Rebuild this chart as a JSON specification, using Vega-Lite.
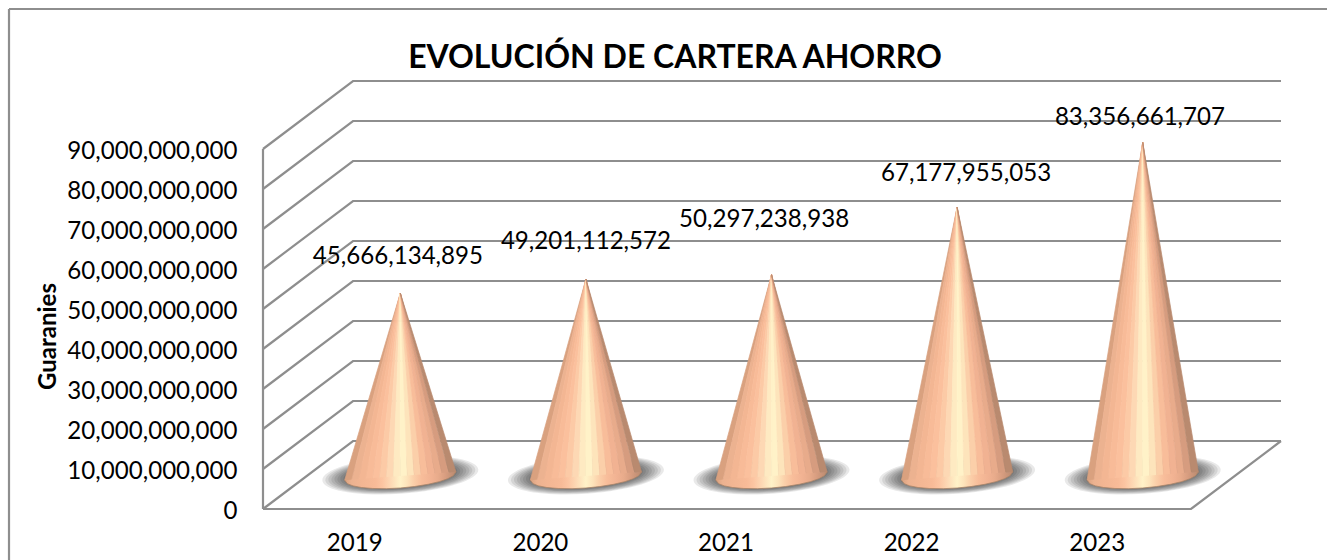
{"$schema":"https://vega.github.io/schema/vega-lite/v6.json","autosize":{"type":"none"},"padding":{"left":263,"top":81,"right":46,"bottom":51},"width":1018,"height":428,"background":"white","view":{"stroke":null},
"config":{"point":{"shape":"M -1 0.07 A 1 0.24 -4 1 0 1 -0.07 A 1 0.24 -4 1 0 -1 0.07 Z","filled":true,"color":"#000000","opacity":0.085,"strokeWidth":0}},
"title":{"text":"EVOLUCIÓN DE CARTERA AHORRO","font":"Lato","fontSize":32,"fontWeight":"bold","color":"#000000","anchor":"middle","dx":-97,"offset":0,"dy":70},
"datasets":{
"grid":[
{"k":"g0","x":0,"v":0},{"k":"g0","x":0.485,"v":17000000000},{"k":"g0","x":5.485,"v":17000000000},
{"k":"g1","x":0,"v":10000000000},{"k":"g1","x":0.485,"v":27000000000},{"k":"g1","x":5.485,"v":27000000000},
{"k":"g2","x":0,"v":20000000000},{"k":"g2","x":0.485,"v":37000000000},{"k":"g2","x":5.485,"v":37000000000},
{"k":"g3","x":0,"v":30000000000},{"k":"g3","x":0.485,"v":47000000000},{"k":"g3","x":5.485,"v":47000000000},
{"k":"g4","x":0,"v":40000000000},{"k":"g4","x":0.485,"v":57000000000},{"k":"g4","x":5.485,"v":57000000000},
{"k":"g5","x":0,"v":50000000000},{"k":"g5","x":0.485,"v":67000000000},{"k":"g5","x":5.485,"v":67000000000},
{"k":"g6","x":0,"v":60000000000},{"k":"g6","x":0.485,"v":77000000000},{"k":"g6","x":5.485,"v":77000000000},
{"k":"g7","x":0,"v":70000000000},{"k":"g7","x":0.485,"v":87000000000},{"k":"g7","x":5.485,"v":87000000000},
{"k":"g8","x":0,"v":80000000000},{"k":"g8","x":0.485,"v":97000000000},{"k":"g8","x":5.485,"v":97000000000},
{"k":"g9","x":0,"v":90000000000},{"k":"g9","x":0.485,"v":107000000000},{"k":"g9","x":5.485,"v":107000000000},
{"k":"left","x":0,"v":90000000000},{"k":"left","x":0,"v":0},
{"k":"floor","x":0,"v":0},{"k":"floor","x":5,"v":0},{"k":"floor","x":5.485,"v":17000000000},
{"k":"frameL","x":-1.3685,"v":-20000000000},{"k":"frameL","x":-1.3685,"v":125000000000},
{"k":"frameT","x":-1.3685,"v":125000000000},{"k":"frameT","x":5.74,"v":125000000000}
],
"values":[
{"year":2019,"value":45666134895,"lx":0.727,"lv":63500000000,"c":0.74},
{"year":2020,"value":49201112572,"lx":1.74,"lv":67250000000,"c":1.74},
{"year":2021,"value":50297238938,"lx":2.70,"lv":72750000000,"c":2.74},
{"year":2022,"value":67177955053,"lx":3.788,"lv":84250000000,"c":3.74},
{"year":2023,"value":83356661707,"lx":4.725,"lv":98250000000,"c":4.74}
],
"skirt":[
{"year":2019,"x":[0.44,0.455,0.485,0.53,0.59,0.665,0.74,0.815,0.89,0.95,0.995,1.025,1.04],"lo":[7200000000,6320000000,5780000000,5370000000,5130000000,5080000000,5250000000,5610000000,6180000000,6840000000,7560000000,8310000000,9300000000],"hi":[7200000000,7250000000,7360000000,7520000000,7730000000,7990000000,8250000000,8510000000,8780000000,8990000000,9140000000,9250000000,9300000000]},
{"year":2020,"x":[1.44,1.455,1.485,1.53,1.59,1.665,1.74,1.815,1.89,1.95,1.995,2.025,2.04],"lo":[7200000000,6320000000,5780000000,5370000000,5130000000,5080000000,5250000000,5610000000,6180000000,6840000000,7560000000,8310000000,9300000000],"hi":[7200000000,7250000000,7360000000,7520000000,7730000000,7990000000,8250000000,8510000000,8780000000,8990000000,9140000000,9250000000,9300000000]},
{"year":2021,"x":[2.44,2.455,2.485,2.53,2.59,2.665,2.74,2.815,2.89,2.95,2.995,3.025,3.04],"lo":[7200000000,6320000000,5780000000,5370000000,5130000000,5080000000,5250000000,5610000000,6180000000,6840000000,7560000000,8310000000,9300000000],"hi":[7200000000,7250000000,7360000000,7520000000,7730000000,7990000000,8250000000,8510000000,8780000000,8990000000,9140000000,9250000000,9300000000]},
{"year":2022,"x":[3.44,3.455,3.485,3.53,3.59,3.665,3.74,3.815,3.89,3.95,3.995,4.025,4.04],"lo":[7200000000,6320000000,5780000000,5370000000,5130000000,5080000000,5250000000,5610000000,6180000000,6840000000,7560000000,8310000000,9300000000],"hi":[7200000000,7250000000,7360000000,7520000000,7730000000,7990000000,8250000000,8510000000,8780000000,8990000000,9140000000,9250000000,9300000000]},
{"year":2023,"x":[4.44,4.455,4.485,4.53,4.59,4.665,4.74,4.815,4.89,4.95,4.995,5.025,5.04],"lo":[7200000000,6320000000,5780000000,5370000000,5130000000,5080000000,5250000000,5610000000,6180000000,6840000000,7560000000,8310000000,9300000000],"hi":[7200000000,7250000000,7360000000,7520000000,7730000000,7990000000,8250000000,8510000000,8780000000,8990000000,9140000000,9250000000,9300000000]}
],
"wedges":[
{"year":2019,"band":"a","x":[0.74,0.44],"x2":[0.74,0.4775],"v":[53970000000,7200000000]},
{"year":2019,"band":"b","x":[0.74,0.4775],"x2":[0.74,0.515],"v":[53970000000,7150000000]},
{"year":2019,"band":"c","x":[0.74,0.515],"x2":[0.74,0.5525],"v":[53970000000,7280000000]},
{"year":2019,"band":"d","x":[0.74,0.5525],"x2":[0.74,0.59],"v":[53970000000,7410000000]},
{"year":2019,"band":"e","x":[0.74,0.59],"x2":[0.74,0.6275],"v":[53970000000,7540000000]},
{"year":2019,"band":"f","x":[0.74,0.6275],"x2":[0.74,0.665],"v":[53970000000,7670000000]},
{"year":2019,"band":"g","x":[0.74,0.665],"x2":[0.74,0.7025],"v":[53970000000,7800000000]},
{"year":2019,"band":"h","x":[0.74,0.7025],"x2":[0.74,0.74],"v":[53970000000,7930000000]},
{"year":2019,"band":"i","x":[0.74,0.74],"x2":[0.74,0.7775],"v":[53970000000,8070000000]},
{"year":2019,"band":"j","x":[0.74,0.7775],"x2":[0.74,0.815],"v":[53970000000,8200000000]},
{"year":2019,"band":"k","x":[0.74,0.815],"x2":[0.74,0.8525],"v":[53970000000,8330000000]},
{"year":2019,"band":"l","x":[0.74,0.8525],"x2":[0.74,0.89],"v":[53970000000,8460000000]},
{"year":2019,"band":"m","x":[0.74,0.89],"x2":[0.74,0.9275],"v":[53970000000,8590000000]},
{"year":2019,"band":"n","x":[0.74,0.9275],"x2":[0.74,0.965],"v":[53970000000,8720000000]},
{"year":2019,"band":"o","x":[0.74,0.965],"x2":[0.74,1.0025],"v":[53970000000,8850000000]},
{"year":2019,"band":"p","x":[0.74,1.0025],"x2":[0.74,1.04],"v":[53970000000,9200000000]},
{"year":2020,"band":"a","x":[1.74,1.44],"x2":[1.74,1.4775],"v":[57500000000,7200000000]},
{"year":2020,"band":"b","x":[1.74,1.4775],"x2":[1.74,1.515],"v":[57500000000,7150000000]},
{"year":2020,"band":"c","x":[1.74,1.515],"x2":[1.74,1.5525],"v":[57500000000,7280000000]},
{"year":2020,"band":"d","x":[1.74,1.5525],"x2":[1.74,1.59],"v":[57500000000,7410000000]},
{"year":2020,"band":"e","x":[1.74,1.59],"x2":[1.74,1.6275],"v":[57500000000,7540000000]},
{"year":2020,"band":"f","x":[1.74,1.6275],"x2":[1.74,1.665],"v":[57500000000,7670000000]},
{"year":2020,"band":"g","x":[1.74,1.665],"x2":[1.74,1.7025],"v":[57500000000,7800000000]},
{"year":2020,"band":"h","x":[1.74,1.7025],"x2":[1.74,1.74],"v":[57500000000,7930000000]},
{"year":2020,"band":"i","x":[1.74,1.74],"x2":[1.74,1.7775],"v":[57500000000,8070000000]},
{"year":2020,"band":"j","x":[1.74,1.7775],"x2":[1.74,1.815],"v":[57500000000,8200000000]},
{"year":2020,"band":"k","x":[1.74,1.815],"x2":[1.74,1.8525],"v":[57500000000,8330000000]},
{"year":2020,"band":"l","x":[1.74,1.8525],"x2":[1.74,1.89],"v":[57500000000,8460000000]},
{"year":2020,"band":"m","x":[1.74,1.89],"x2":[1.74,1.9275],"v":[57500000000,8590000000]},
{"year":2020,"band":"n","x":[1.74,1.9275],"x2":[1.74,1.965],"v":[57500000000,8720000000]},
{"year":2020,"band":"o","x":[1.74,1.965],"x2":[1.74,2.0025],"v":[57500000000,8850000000]},
{"year":2020,"band":"p","x":[1.74,2.0025],"x2":[1.74,2.04],"v":[57500000000,9200000000]},
{"year":2021,"band":"a","x":[2.74,2.44],"x2":[2.74,2.4775],"v":[58600000000,7200000000]},
{"year":2021,"band":"b","x":[2.74,2.4775],"x2":[2.74,2.515],"v":[58600000000,7150000000]},
{"year":2021,"band":"c","x":[2.74,2.515],"x2":[2.74,2.5525],"v":[58600000000,7280000000]},
{"year":2021,"band":"d","x":[2.74,2.5525],"x2":[2.74,2.59],"v":[58600000000,7410000000]},
{"year":2021,"band":"e","x":[2.74,2.59],"x2":[2.74,2.6275],"v":[58600000000,7540000000]},
{"year":2021,"band":"f","x":[2.74,2.6275],"x2":[2.74,2.665],"v":[58600000000,7670000000]},
{"year":2021,"band":"g","x":[2.74,2.665],"x2":[2.74,2.7025],"v":[58600000000,7800000000]},
{"year":2021,"band":"h","x":[2.74,2.7025],"x2":[2.74,2.74],"v":[58600000000,7930000000]},
{"year":2021,"band":"i","x":[2.74,2.74],"x2":[2.74,2.7775],"v":[58600000000,8070000000]},
{"year":2021,"band":"j","x":[2.74,2.7775],"x2":[2.74,2.815],"v":[58600000000,8200000000]},
{"year":2021,"band":"k","x":[2.74,2.815],"x2":[2.74,2.8525],"v":[58600000000,8330000000]},
{"year":2021,"band":"l","x":[2.74,2.8525],"x2":[2.74,2.89],"v":[58600000000,8460000000]},
{"year":2021,"band":"m","x":[2.74,2.89],"x2":[2.74,2.9275],"v":[58600000000,8590000000]},
{"year":2021,"band":"n","x":[2.74,2.9275],"x2":[2.74,2.965],"v":[58600000000,8720000000]},
{"year":2021,"band":"o","x":[2.74,2.965],"x2":[2.74,3.0025],"v":[58600000000,8850000000]},
{"year":2021,"band":"p","x":[2.74,3.0025],"x2":[2.74,3.04],"v":[58600000000,9200000000]},
{"year":2022,"band":"a","x":[3.74,3.44],"x2":[3.74,3.4775],"v":[75480000000,7200000000]},
{"year":2022,"band":"b","x":[3.74,3.4775],"x2":[3.74,3.515],"v":[75480000000,7150000000]},
{"year":2022,"band":"c","x":[3.74,3.515],"x2":[3.74,3.5525],"v":[75480000000,7280000000]},
{"year":2022,"band":"d","x":[3.74,3.5525],"x2":[3.74,3.59],"v":[75480000000,7410000000]},
{"year":2022,"band":"e","x":[3.74,3.59],"x2":[3.74,3.6275],"v":[75480000000,7540000000]},
{"year":2022,"band":"f","x":[3.74,3.6275],"x2":[3.74,3.665],"v":[75480000000,7670000000]},
{"year":2022,"band":"g","x":[3.74,3.665],"x2":[3.74,3.7025],"v":[75480000000,7800000000]},
{"year":2022,"band":"h","x":[3.74,3.7025],"x2":[3.74,3.74],"v":[75480000000,7930000000]},
{"year":2022,"band":"i","x":[3.74,3.74],"x2":[3.74,3.7775],"v":[75480000000,8070000000]},
{"year":2022,"band":"j","x":[3.74,3.7775],"x2":[3.74,3.815],"v":[75480000000,8200000000]},
{"year":2022,"band":"k","x":[3.74,3.815],"x2":[3.74,3.8525],"v":[75480000000,8330000000]},
{"year":2022,"band":"l","x":[3.74,3.8525],"x2":[3.74,3.89],"v":[75480000000,8460000000]},
{"year":2022,"band":"m","x":[3.74,3.89],"x2":[3.74,3.9275],"v":[75480000000,8590000000]},
{"year":2022,"band":"n","x":[3.74,3.9275],"x2":[3.74,3.965],"v":[75480000000,8720000000]},
{"year":2022,"band":"o","x":[3.74,3.965],"x2":[3.74,4.0025],"v":[75480000000,8850000000]},
{"year":2022,"band":"p","x":[3.74,4.0025],"x2":[3.74,4.04],"v":[75480000000,9200000000]},
{"year":2023,"band":"a","x":[4.74,4.44],"x2":[4.74,4.4775],"v":[91660000000,7200000000]},
{"year":2023,"band":"b","x":[4.74,4.4775],"x2":[4.74,4.515],"v":[91660000000,7150000000]},
{"year":2023,"band":"c","x":[4.74,4.515],"x2":[4.74,4.5525],"v":[91660000000,7280000000]},
{"year":2023,"band":"d","x":[4.74,4.5525],"x2":[4.74,4.59],"v":[91660000000,7410000000]},
{"year":2023,"band":"e","x":[4.74,4.59],"x2":[4.74,4.6275],"v":[91660000000,7540000000]},
{"year":2023,"band":"f","x":[4.74,4.6275],"x2":[4.74,4.665],"v":[91660000000,7670000000]},
{"year":2023,"band":"g","x":[4.74,4.665],"x2":[4.74,4.7025],"v":[91660000000,7800000000]},
{"year":2023,"band":"h","x":[4.74,4.7025],"x2":[4.74,4.74],"v":[91660000000,7930000000]},
{"year":2023,"band":"i","x":[4.74,4.74],"x2":[4.74,4.7775],"v":[91660000000,8070000000]},
{"year":2023,"band":"j","x":[4.74,4.7775],"x2":[4.74,4.815],"v":[91660000000,8200000000]},
{"year":2023,"band":"k","x":[4.74,4.815],"x2":[4.74,4.8525],"v":[91660000000,8330000000]},
{"year":2023,"band":"l","x":[4.74,4.8525],"x2":[4.74,4.89],"v":[91660000000,8460000000]},
{"year":2023,"band":"m","x":[4.74,4.89],"x2":[4.74,4.9275],"v":[91660000000,8590000000]},
{"year":2023,"band":"n","x":[4.74,4.9275],"x2":[4.74,4.965],"v":[91660000000,8720000000]},
{"year":2023,"band":"o","x":[4.74,4.965],"x2":[4.74,5.0025],"v":[91660000000,8850000000]},
{"year":2023,"band":"p","x":[4.74,5.0025],"x2":[4.74,5.04],"v":[91660000000,9200000000]}
]},
"layer":[
{"data":{"name":"grid"},"mark":{"type":"line","color":"#8e8e8e","strokeWidth":2.2,"clip":false},
"encoding":{
"x":{"field":"x","type":"quantitative","title":null,"scale":{"domain":[0,5.485],"nice":false,"zero":false},"axis":{"values":[0.5,1.5,2.5,3.5,4.5],"labelExpr":"2018.5+datum.value","domain":false,"ticks":false,"grid":false,"labelFont":"Lato","labelFontSize":24.1,"labelColor":"#000000","labelPadding":22,"labelOffset":-1.5,"labelOverlap":false,"labelFlush":false}},
"y":{"field":"v","type":"quantitative","title":"Guaranies","scale":{"domain":[0,107000000000],"nice":false,"zero":false},"axis":{"values":[0,10000000000,20000000000,30000000000,40000000000,50000000000,60000000000,70000000000,80000000000,90000000000],"format":",d","titleFont":"Lato","titleFontSize":24,"titleFontWeight":"bold","titleColor":"#000000","titleX":-203,"titleY":255,"titleAlign":"center","domain":false,"ticks":false,"grid":false,"labelFont":"Lato","labelFontSize":24.1,"labelColor":"#000000","labelPadding":26,"labelOffset":2,"labelOverlap":false}},
"detail":{"field":"k"}}},
{"data":{"name":"values"},"mark":{"type":"point","size":24336},"encoding":{"x":{"field":"c","type":"quantitative","title":null},"y":{"datum":8500000000,"type":"quantitative","title":"Guaranies"}}},
{"data":{"name":"values"},"mark":{"type":"point","size":22500},"encoding":{"x":{"field":"c","type":"quantitative","title":null},"y":{"datum":8500000000,"type":"quantitative","title":"Guaranies"}}},
{"data":{"name":"values"},"mark":{"type":"point","size":20736},"encoding":{"x":{"field":"c","type":"quantitative","title":null},"y":{"datum":8500000000,"type":"quantitative","title":"Guaranies"}}},
{"data":{"name":"values"},"mark":{"type":"point","size":19044},"encoding":{"x":{"field":"c","type":"quantitative","title":null},"y":{"datum":8500000000,"type":"quantitative","title":"Guaranies"}}},
{"data":{"name":"values"},"mark":{"type":"point","size":17424},"encoding":{"x":{"field":"c","type":"quantitative","title":null},"y":{"datum":8500000000,"type":"quantitative","title":"Guaranies"}}},
{"data":{"name":"values"},"mark":{"type":"point","size":15876},"encoding":{"x":{"field":"c","type":"quantitative","title":null},"y":{"datum":8500000000,"type":"quantitative","title":"Guaranies"}}},
{"data":{"name":"values"},"mark":{"type":"point","size":14400},"encoding":{"x":{"field":"c","type":"quantitative","title":null},"y":{"datum":8500000000,"type":"quantitative","title":"Guaranies"}}},
{"data":{"name":"values"},"mark":{"type":"point","size":12996},"encoding":{"x":{"field":"c","type":"quantitative","title":null},"y":{"datum":8500000000,"type":"quantitative","title":"Guaranies"}}},
{"data":{"name":"wedges"},"transform":[{"flatten":["x","x2","v"]}],"mark":{"type":"area","orient":"horizontal","strokeWidth":0.7},
"encoding":{"x":{"field":"x","type":"quantitative","title":null},"x2":{"field":"x2"},"y":{"field":"v","type":"quantitative","title":"Guaranies"},"detail":{"field":"year"},
"color":{"field":"band","type":"nominal","legend":null,"scale":{"domain":["a","b","c","d","e","f","g","h","i","j","k","l","m","n","o","p"],"range":["#d9a17f","#ecb290","#f3b693","#f8bb98","#fbc09d","#fccaa6","#fdd8b4","#feeac2","#fff2c8","#fde4bb","#fbcfa9","#f8bd9a","#f1b292","#e8ab8b","#d69c7f","#b98a6f"]}},
"stroke":{"field":"band","type":"nominal","legend":null,"scale":{"domain":["a","b","c","d","e","f","g","h","i","j","k","l","m","n","o","p"],"range":["#d9a17f","#ecb290","#f3b693","#f8bb98","#fbc09d","#fccaa6","#fdd8b4","#feeac2","#fff2c8","#fde4bb","#fbcfa9","#f8bd9a","#f1b292","#e8ab8b","#d69c7f","#b98a6f"]}}}},
{"data":{"name":"skirt"},"transform":[{"flatten":["x","lo","hi"]}],"mark":{"type":"area","color":{"gradient":"linear","x1":0,"y1":0,"x2":1,"y2":0,"stops":[{"offset":0,"color":"#d9a17f"},{"offset":0.06,"color":"#ecb290"},{"offset":0.16,"color":"#f3b693"},{"offset":0.28,"color":"#f8bb98"},{"offset":0.34,"color":"#fcc5a2"},{"offset":0.41,"color":"#fdd8b4"},{"offset":0.47,"color":"#feeac2"},{"offset":0.5,"color":"#fff2c8"},{"offset":0.56,"color":"#fde4bb"},{"offset":0.62,"color":"#fbcfa9"},{"offset":0.69,"color":"#f8bd9a"},{"offset":0.78,"color":"#f1b292"},{"offset":0.84,"color":"#e8ab8b"},{"offset":0.91,"color":"#d69c7f"},{"offset":1,"color":"#b98a6f"}]}},
"encoding":{"x":{"field":"x","type":"quantitative","title":null},"y":{"field":"lo","type":"quantitative","title":"Guaranies"},"y2":{"field":"hi"},"detail":{"field":"year"}}},
{"data":{"name":"skirt"},"transform":[{"flatten":["x","lo"]}],"mark":{"type":"line","color":"#a98469","strokeWidth":1,"opacity":0.8},
"encoding":{"x":{"field":"x","type":"quantitative","title":null},"y":{"field":"lo","type":"quantitative","title":"Guaranies"},"detail":{"field":"year"}}},
{"data":{"name":"values"},"mark":{"type":"text","font":"Lato","fontSize":24.1,"color":"#000000","baseline":"middle","align":"center","dy":1.5},
"encoding":{"x":{"field":"lx","type":"quantitative","title":null},"y":{"field":"lv","type":"quantitative","title":"Guaranies"},"text":{"field":"value","type":"quantitative","format":",d"}}}
]}
